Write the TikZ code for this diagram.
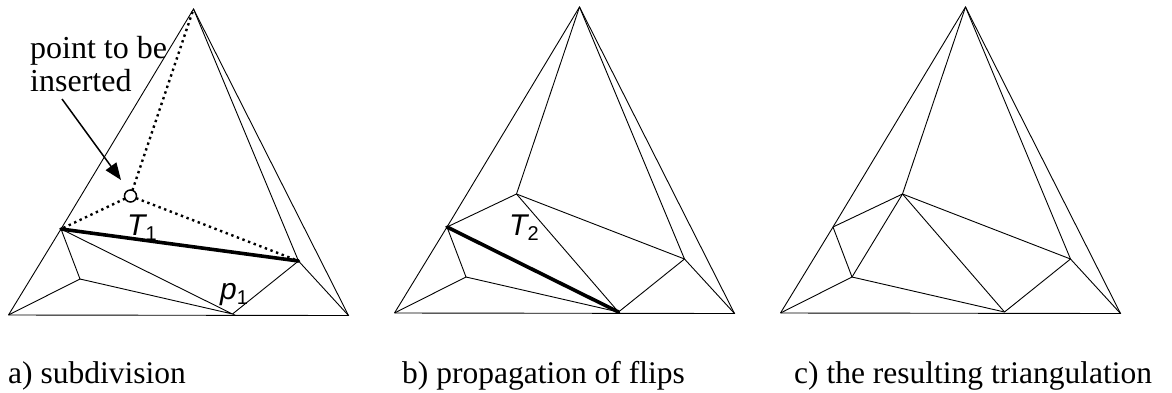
\documentclass[tikz,border=0pt]{standalone}
\usepackage{fontspec}
\setmainfont{Liberation Serif}
\newfontfamily\labfont{Liberation Sans}
\usetikzlibrary{arrows.meta}
\newcommand\mkpts{%
  \coordinate (T) at (193.5,7);
  \coordinate (L) at (8.5,313);
  \coordinate (R) at (348.5,313.5);
  \coordinate (A) at (61,227);
  \coordinate (B) at (298.5,259);
  \coordinate (P) at (130.5,194);
  \coordinate (C) at (80,277);
  \coordinate (D) at (232.5,312);
}
\tikzset{
  edge/.style={line width=0.9pt, line join=miter},
  heavy/.style={line width=3.6pt, line cap=round},
  dotedge/.style={line width=2.4pt, dash pattern=on 2.4pt off 3.6pt},
  captext/.style={anchor=base west, inner sep=0pt, font=\fontsize{31.5}{33}\selectfont},
  lab/.style={anchor=base west, inner sep=0pt, font=\labfont\fontsize{30}{30}\selectfont},
}
\newcommand\sub[1]{\raisebox{-5.5pt}{\upshape\fontsize{20}{20}\selectfont #1}}
\begin{document}
\begin{tikzpicture}[x=1pt,y=-1pt]
\useasboundingbox (0,0) rectangle (1172,392);
% panel a
\begin{scope}[shift={(0,2)}, name prefix=a-]
  \mkpts
  \draw[edge] (L) -- (A) -- (T) -- (R) -- (L);
  \draw[edge] (T) -- (B) -- (R);
  \draw[edge] (A) -- (C) -- (L);
  \draw[edge] (C) -- (D) -- (A);
  \draw[edge] (D) -- (B);
  \draw[heavy] (A) -- (B);
  \draw[dotedge] (P) -- (T);
  \draw[dotedge] (P) -- (A);
  \draw[dotedge] (P) -- (B);
  \node[circle, draw, fill=white, minimum size=12pt, inner sep=0pt, line width=1.5pt] (circ) at (P) {};
  \node[lab] (t1) at (127,233) {\itshape T\sub{1}};
  \node[lab] (p1) at (220,297) {\itshape p\sub{1}};
  \coordinate (tail) at (62,97);
  \coordinate (tip) at (121,178);
  \draw[line width=1.5pt, -{Triangle[length=17pt,width=13pt]}] (tail) -- (tip);
  \node[anchor=north west, inner sep=0pt, align=left, font=\fontsize{32}{33}\selectfont] (txt) at (30,34) {point to be\\inserted};
\end{scope}
% panel b
\begin{scope}[shift={(386,0)}, name prefix=b-]
  \mkpts
  \draw[edge] (L) -- (A) -- (T) -- (R) -- (L);
  \draw[edge] (T) -- (B) -- (R);
  \draw[edge] (T) -- (P);
  \draw[edge] (A) -- (P) -- (B);
  \draw[edge] (P) -- (D);
  \draw[edge] (A) -- (C) -- (L);
  \draw[edge] (C) -- (D) -- (B);
  \draw[heavy] (A) -- (D);
  \node[lab] (t2) at (123,235) {\itshape T\sub{2}};
\end{scope}
% panel c
\begin{scope}[shift={(772,0)}, name prefix=c-]
  \mkpts
  \draw[edge] (L) -- (A) -- (T) -- (R) -- (L);
  \draw[edge] (T) -- (B) -- (R);
  \draw[edge] (T) -- (P);
  \draw[edge] (A) -- (P) -- (B);
  \draw[edge] (P) -- (D);
  \draw[edge] (P) -- (C);
  \draw[edge] (A) -- (C) -- (L);
  \draw[edge] (C) -- (D) -- (B);
\end{scope}
\node[captext] (capa) at (8,383) {a) subdivision};
\node[captext] (capb) at (402,383) {b) propagation of flips};
\node[captext] (capc) at (794,383) {c) the resulting triangulation};
\end{tikzpicture}
\end{document}
